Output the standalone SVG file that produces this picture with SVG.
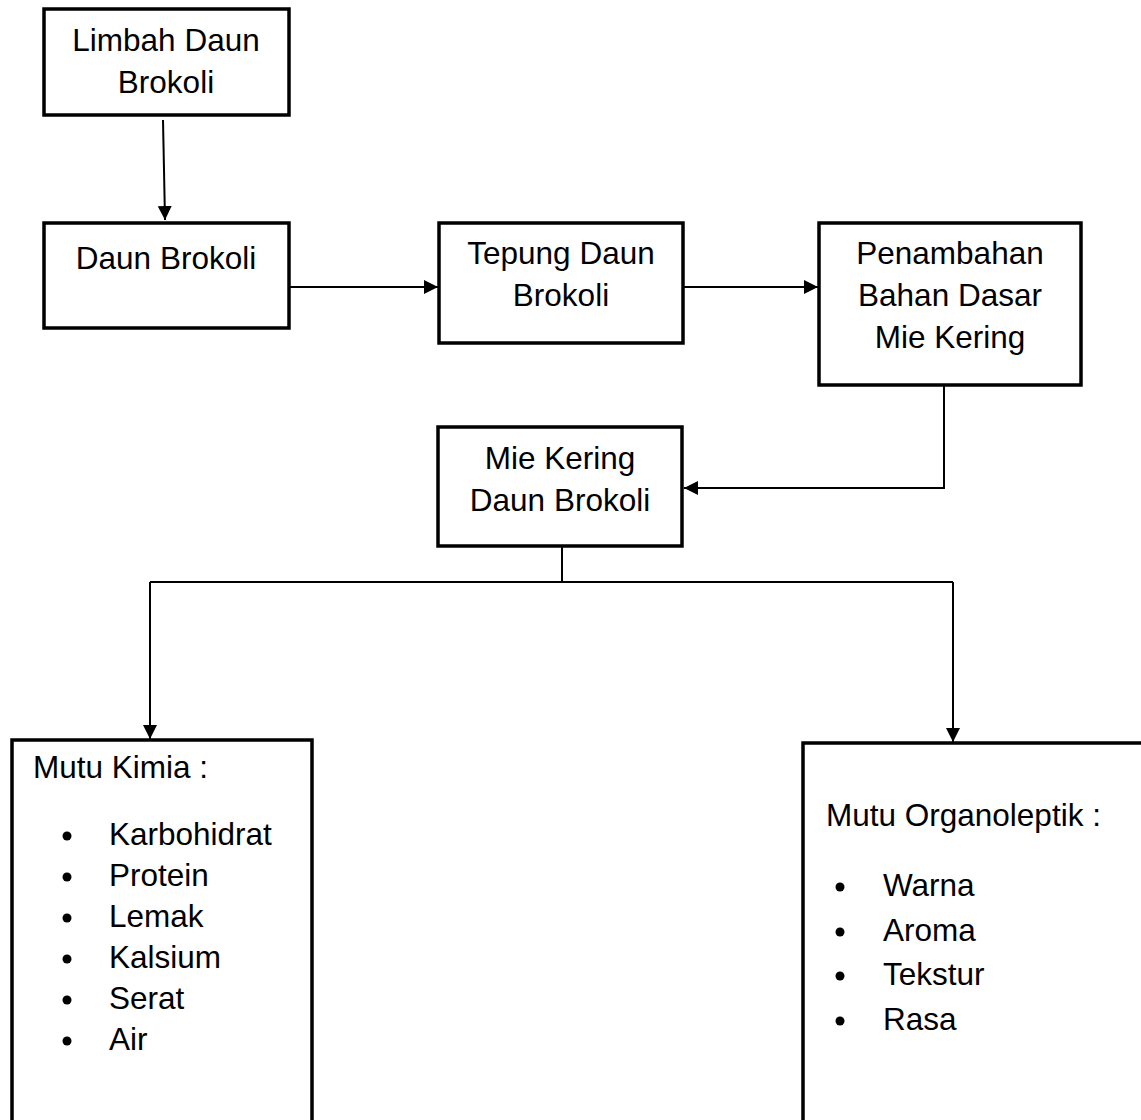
<svg xmlns="http://www.w3.org/2000/svg" width="1141" height="1120" viewBox="0 0 1141 1120">
<style>
.box{fill:#fff;stroke:#000;stroke-width:3.5}
.t{font-family:"Liberation Sans",Arial,sans-serif;font-size:31.5px;fill:#000}
.c{text-anchor:middle}
.conn{fill:none;stroke:#000;stroke-width:2}
.b{fill:#000}
</style>
<defs>
<marker id="ah" markerUnits="userSpaceOnUse" markerWidth="14" markerHeight="14" viewBox="0 0 14 14" refX="14" refY="7" orient="auto">
<path d="M0,0 L14,7 L0,14 Z" fill="#000"/>
</marker>
</defs>
<rect width="1141" height="1120" fill="#fff"/>
<g id="connectors">
<path class="conn" d="M163,120 L165,220" marker-end="url(#ah)"/>
<path class="conn" d="M289,287 L438,287" marker-end="url(#ah)"/>
<path class="conn" d="M683,287 L818,287" marker-end="url(#ah)"/>
<path class="conn" d="M944,385 L944,488 L684,488" marker-end="url(#ah)"/>
<path class="conn" d="M562,546 L562,582"/>
<path class="conn" d="M150,582 L953,582"/>
<path class="conn" d="M150,582 L150,739" marker-end="url(#ah)"/>
<path class="conn" d="M953,582 L953,742" marker-end="url(#ah)"/>
</g>
<g id="limbah">
<rect class="box" x="44" y="9" width="245" height="106"/>
<text class="t c" x="166" y="51">Limbah Daun</text>
<text class="t c" x="166" y="93">Brokoli</text>
</g>
<g id="daun">
<rect class="box" x="44" y="223" width="245" height="105"/>
<text class="t c" x="166" y="269">Daun Brokoli</text>
</g>
<g id="tepung">
<rect class="box" x="439" y="223" width="244" height="120"/>
<text class="t c" x="561" y="264">Tepung Daun</text>
<text class="t c" x="561" y="306">Brokoli</text>
</g>
<g id="penambahan">
<rect class="box" x="819" y="223" width="262" height="162"/>
<text class="t c" x="950" y="264">Penambahan</text>
<text class="t c" x="950" y="306">Bahan Dasar</text>
<text class="t c" x="950" y="348">Mie Kering</text>
</g>
<g id="mie">
<rect class="box" x="438" y="427" width="244" height="119"/>
<text class="t c" x="560" y="469">Mie Kering</text>
<text class="t c" x="560" y="511">Daun Brokoli</text>
</g>
<g id="kimia">
<rect class="box" x="12" y="740" width="300" height="420"/>
<text class="t" x="33" y="778">Mutu Kimia :</text>
<g class="b">
<circle cx="67" cy="836" r="4.5"/>
<circle cx="67" cy="877" r="4.5"/>
<circle cx="67" cy="918" r="4.5"/>
<circle cx="67" cy="959" r="4.5"/>
<circle cx="67" cy="1000" r="4.5"/>
<circle cx="67" cy="1041" r="4.5"/>
</g>
<g class="t">
<text x="109" y="845">Karbohidrat</text>
<text x="109" y="886">Protein</text>
<text x="109" y="927">Lemak</text>
<text x="109" y="968">Kalsium</text>
<text x="109" y="1009">Serat</text>
<text x="109" y="1050">Air</text>
</g>
</g>
<g id="organoleptik">
<rect class="box" x="803" y="743" width="400" height="420"/>
<text class="t" x="826" y="826">Mutu Organoleptik :</text>
<g class="b">
<circle cx="840" cy="887" r="4.5"/>
<circle cx="840" cy="932" r="4.5"/>
<circle cx="840" cy="976" r="4.5"/>
<circle cx="840" cy="1021" r="4.5"/>
</g>
<g class="t">
<text x="883" y="896">Warna</text>
<text x="883" y="941">Aroma</text>
<text x="883" y="985">Tekstur</text>
<text x="883" y="1030">Rasa</text>
</g>
</g>
</svg>
